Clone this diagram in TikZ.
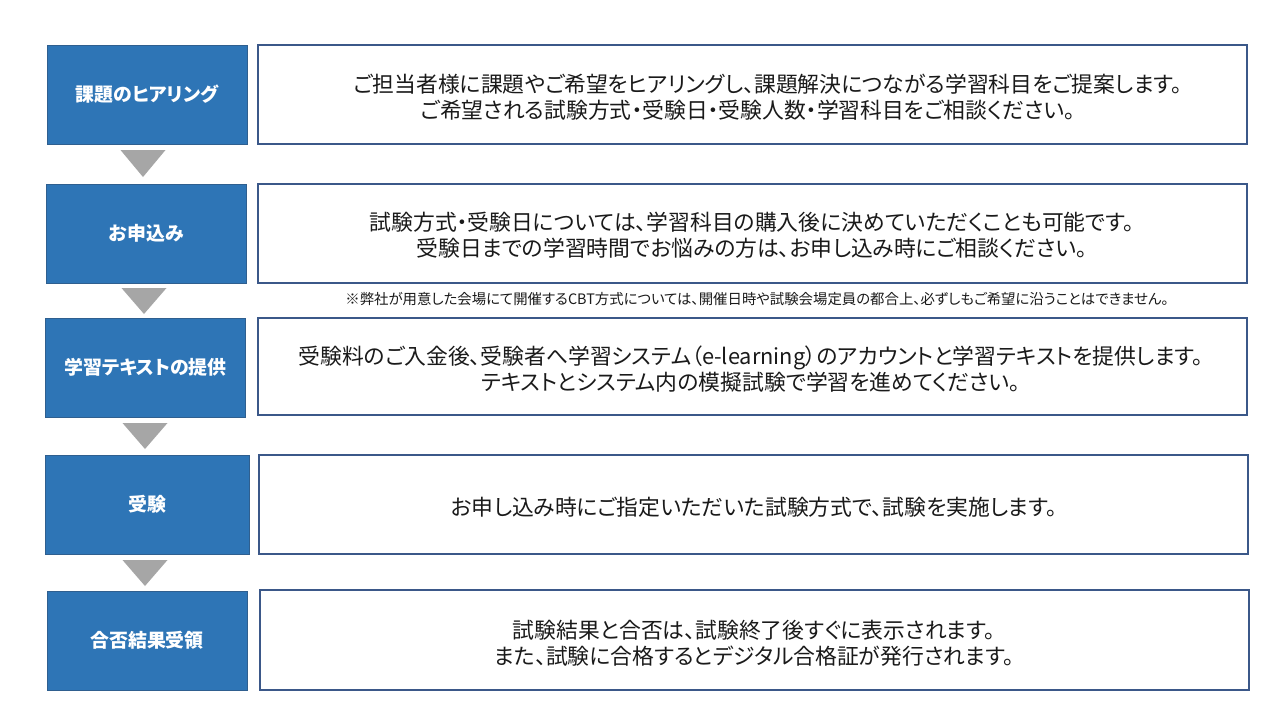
\documentclass[tikz,border=0pt]{standalone}
\usepackage{fontspec}
\setmainfont{Noto Sans CJK JP}[RawFeature=+palt]
\definecolor{bfill}{HTML}{2E75B6}
\definecolor{bline}{HTML}{2F5F8F}
\definecolor{wline}{HTML}{3B5889}
\definecolor{tri}{HTML}{A6A6A6}
\definecolor{txt}{HTML}{1A1A1A}
\tikzset{
  bluebox/.style={draw=bline, line width=0.8pt, fill=bfill, text=white, minimum width=200pt, minimum height=99pt, inner sep=0pt, font=\fontsize{18.9}{20}\selectfont\bfseries},
  whitebox/.style={draw=wline, line width=2pt, fill=white, minimum width=989pt, minimum height=99pt, inner sep=0pt},
  desc/.style={text=txt, align=center, inner sep=0pt, font=\fontsize{21.8}{26}\selectfont},
  note/.style={text=txt, inner sep=0pt, font=\fontsize{14.4}{15}\selectfont},
  arrowtri/.style={fill=tri, draw=none}
}
\begin{document}
\begin{tikzpicture}[x=1pt,y=-1pt]
\useasboundingbox (0,0) rectangle (1280,720);
\fill[white] (0,0) rectangle (1280,720);
% row 1
\node[bluebox] (b1) at (147,94.5) {課題のヒアリング};
\node[whitebox] (w1) at (752.5,94.5) {};
\node[desc] (t1) at (748,97) {\hspace*{40pt}ご担当者様に課題やご希望をヒアリングし、課題解決につながる学習科目をご提案します。\\ご希望される試験方式・受験日・受験人数・学習科目をご相談ください。};
% row 2
\node[bluebox] (b2) at (146.5,233.5) {お申込み};
\node[whitebox] (w2) at (752.5,233.5) {};
\node[desc] (t2) at (752,235) {試験方式・受験日については、学習科目の購入後に決めていただくことも可能です。\\受験日までの学習時間でお悩みの方は、お申し込み時にご相談ください。};
\node[note] (n2) at (757,299) {※弊社が用意した会場にて開催するCBT方式については、開催日時や試験会場定員の都合上、必ずしもご希望に沿うことはできません。};
% row 3
\node[bluebox] (b3) at (145.5,367.5) {学習テキストの提供};
\node[whitebox, minimum height=97pt] (w3) at (752.5,366.5) {};
\node[desc] (t3) at (751,369) {受験料のご入金後、受験者へ学習システム（e-learning）のアカウントと学習テキストを提供します。\\テキストとシステム内の模擬試験で学習を進めてください。};
% row 4
\node[bluebox, minimum width=204pt] (b4) at (147,504.5) {受験};
\node[whitebox] (w4) at (753.5,504.5) {};
\node[desc] (t4) at (754,507) {お申し込み時にご指定いただいた試験方式で、試験を実施します。};
% row 5
\node[bluebox] (b5) at (147,640.5) {合否結果受領};
\node[whitebox, minimum height=100pt] (w5) at (754,640) {};
\node[desc] (t5) at (754,643) {試験結果と合否は、試験終了後すぐに表示されます。\\また、試験に合格するとデジタル合格証が発行されます。};
% triangles
\fill[arrowtri] (120.5,150) -- (165.5,150) -- (143,177) -- cycle;
\fill[arrowtri] (121.5,288) -- (166.5,288) -- (144,314) -- cycle;
\fill[arrowtri] (122.5,423) -- (167.5,423) -- (145,449) -- cycle;
\fill[arrowtri] (122.5,560) -- (167.5,560) -- (145,586) -- cycle;
\end{tikzpicture}
\end{document}
